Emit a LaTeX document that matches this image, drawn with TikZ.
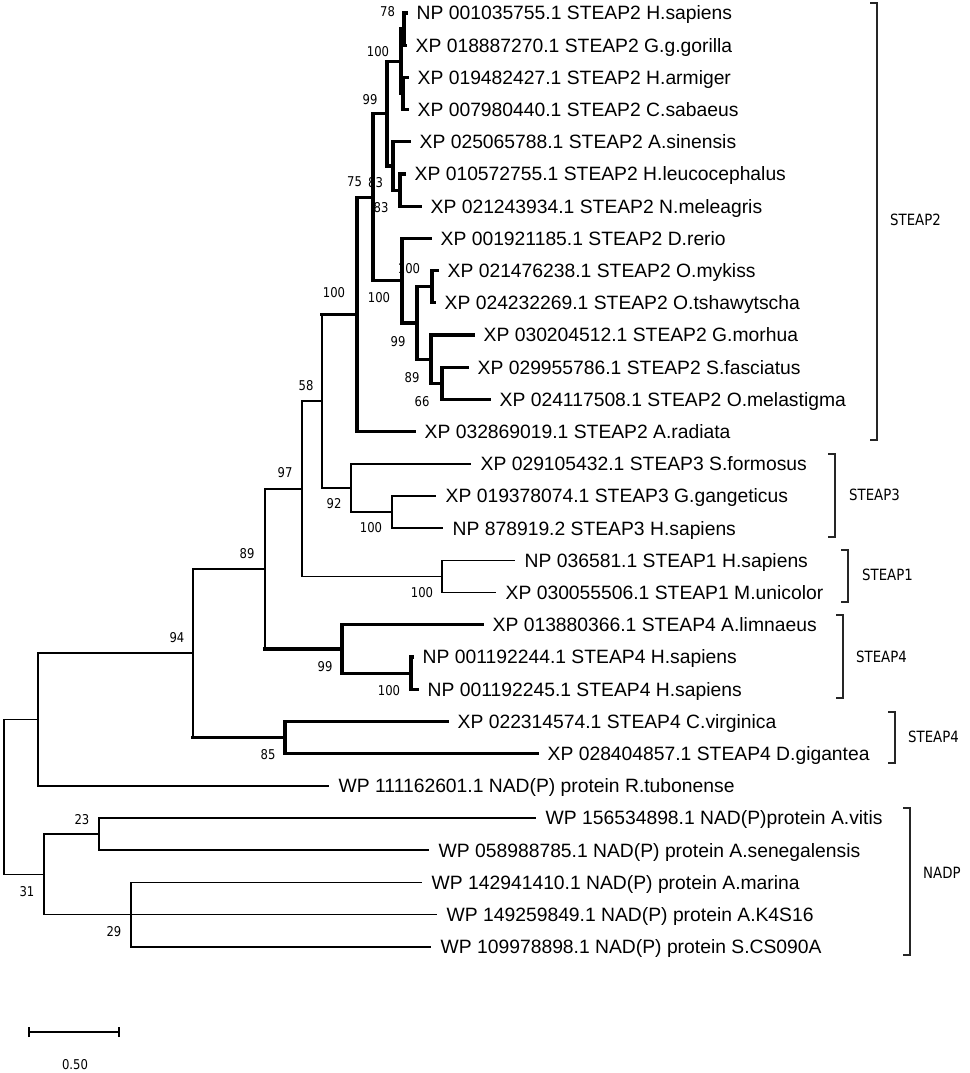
\documentclass[tikz,border=0pt]{standalone}
\usepackage{fontspec}
\setmainfont{Liberation Sans}
\newfontfamily\bootfont[FakeStretch=0.86]{DejaVu Sans}

\begin{document}
\begin{tikzpicture}[x=1pt,y=-1pt]
    \tikzstyle{every node}+=[inner sep=0pt]
    \tikzstyle{thinbranch}=[line width=1.65pt,line cap=rect]
    \tikzstyle{boldbranch}=[line width=3.2pt,line cap=rect]
    \tikzstyle{leaf}=[anchor=west,inner xsep=10.5pt,font=\fontsize{19.3}{22}\selectfont,text height=13.9pt,text depth=0pt]
    \tikzstyle{boot}=[font=\bootfont\fontsize{13.5}{15}\selectfont]
    \tikzstyle{group}=[anchor=west,font=\bootfont\fontsize{15.5}{17}\selectfont]
    \tikzstyle{bracket}=[line width=1.6pt,black!85]
    \useasboundingbox (0,0) rectangle (969,1073);
    \coordinate (t1) at (406,13);
    \coordinate (t2) at (405,45.2);
    \coordinate (t3) at (407,77.4);
    \coordinate (t4) at (407,109.6);
    \coordinate (t5) at (409,141.8);
    \coordinate (t6) at (404,174);
    \coordinate (t7) at (420,206.2);
    \coordinate (t8) at (430,238.4);
    \coordinate (t9) at (437,270.6);
    \coordinate (t10) at (434,302.8);
    \coordinate (t11) at (473,335);
    \coordinate (t12) at (467,367.2);
    \coordinate (t13) at (489,399.4);
    \coordinate (t14) at (414,431.6);
    \coordinate (t15) at (470,463.8);
    \coordinate (t16) at (435,496);
    \coordinate (t17) at (442,528.2);
    \coordinate (t18) at (514,560.4);
    \coordinate (t19) at (495,592.6);
    \coordinate (t20) at (482,624.8);
    \coordinate (t21) at (412,657);
    \coordinate (t22) at (417,689.2);
    \coordinate (t23) at (447,721.4);
    \coordinate (t24) at (537,753.6);
    \coordinate (t25) at (328,785.8);
    \coordinate (t26) at (535,818);
    \coordinate (t27) at (428,850.2);
    \coordinate (t28) at (421,882.4);
    \coordinate (t29) at (436,914.6);
    \coordinate (t30) at (430,946.8);
    \coordinate (P) at (404,29.1);
    \coordinate (Q) at (403,93.5);
    \coordinate (O) at (401,61.3);
    \coordinate (S) at (400,190.1);
    \coordinate (R) at (393,166);
    \coordinate (N) at (387,113.6);
    \coordinate (V) at (432,286.7);
    \coordinate (X) at (442,383.3);
    \coordinate (W) at (431,359.2);
    \coordinate (U) at (417,323);
    \coordinate (T) at (402,280.7);
    \coordinate (M) at (373,197.2);
    \coordinate (L) at (357,314.4);
    \coordinate (K) at (392,512.1);
    \coordinate (J) at (351,488);
    \coordinate (H) at (322,401.2);
    \coordinate (I) at (442,576.5);
    \coordinate (E) at (302,488.9);
    \coordinate (G) at (411,673.1);
    \coordinate (F) at (342,649);
    \coordinate (D) at (265,569);
    \coordinate (C) at (285,737.5);
    \coordinate (B) at (193,653.3);
    \coordinate (A) at (38,719.6);
    \coordinate (Z) at (99,834.1);
    \coordinate (AA) at (131,914.6);
    \coordinate (Y) at (44,874.4);
    \coordinate (root) at (4,797);
    \draw [boldbranch] (t1) -- (P |- t1) -- (P |- t2) -- (t2);
    \draw [boldbranch] (t3) -- (Q |- t3) -- (Q |- t4) -- (t4);
    \draw [boldbranch] (P) -- (O |- P) -- (O |- Q) -- (Q);
    \draw [boldbranch] (t6) -- (S |- t6) -- (S |- t7) -- (t7);
    \draw [boldbranch] (t5) -- (R |- t5) -- (R |- S) -- (S);
    \draw [boldbranch] (O) -- (N |- O) -- (N |- R) -- (R);
    \draw [boldbranch] (t9) -- (V |- t9) -- (V |- t10) -- (t10);
    \draw [boldbranch] (t12) -- (X |- t12) -- (X |- t13) -- (t13);
    \draw [boldbranch] (t11) -- (W |- t11) -- (W |- X) -- (X);
    \draw [boldbranch] (V) -- (U |- V) -- (U |- W) -- (W);
    \draw [boldbranch] (t8) -- (T |- t8) -- (T |- U) -- (U);
    \draw [boldbranch] (N) -- (M |- N) -- (M |- T) -- (T);
    \draw [boldbranch] (M) -- (L |- M) -- (L |- t14) -- (t14);
    \draw [thinbranch] (t16) -- (K |- t16) -- (K |- t17) -- (t17);
    \draw [thinbranch] (t15) -- (J |- t15) -- (J |- K) -- (K);
    \draw [thinbranch] (H |- L) -- (H |- J) -- (J);
    \draw [boldbranch] (L) -- (H |- L);
    \draw [thinbranch] (t18) -- (I |- t18) -- (I |- t19) -- (t19);
    \draw [thinbranch] (H) -- (E |- H) -- (E |- I) -- (I);
    \draw [boldbranch] (t21) -- (G |- t21) -- (G |- t22) -- (t22);
    \draw [boldbranch] (t20) -- (F |- t20) -- (F |- G) -- (G);
    \draw [thinbranch] (E) -- (D |- E) -- (D |- F);
    \draw [boldbranch] (D |- F) -- (F);
    \draw [boldbranch] (t23) -- (C |- t23) -- (C |- t24) -- (t24);
    \draw [thinbranch] (D) -- (B |- D) -- (B |- C);
    \draw [boldbranch] (B |- C) -- (C);
    \draw [thinbranch] (B) -- (A |- B) -- (A |- t25) -- (t25);
    \draw [thinbranch] (t26) -- (Z |- t26) -- (Z |- t27) -- (t27);
    \draw [thinbranch] (t28) -- (AA |- t28) -- (AA |- t30) -- (t30);
    \draw [thinbranch] (AA) -- (t29);
    \draw [thinbranch] (Z) -- (Y |- Z) -- (Y |- AA) -- (AA);
    \draw [thinbranch] (A) -- (root |- A) -- (root |- Y) -- (Y);
    \node [leaf] (l1) at (t1) {NP 001035755.1 STEAP2 H.sapiens};
    \node [leaf] (l2) at (t2) {XP 018887270.1 STEAP2 G.g.gorilla};
    \node [leaf] (l3) at (t3) {XP 019482427.1 STEAP2 H.armiger};
    \node [leaf] (l4) at (t4) {XP 007980440.1 STEAP2 C.sabaeus};
    \node [leaf] (l5) at (t5) {XP 025065788.1 STEAP2 A.sinensis};
    \node [leaf] (l6) at (t6) {XP 010572755.1 STEAP2 H.leucocephalus};
    \node [leaf] (l7) at (t7) {XP 021243934.1 STEAP2 N.meleagris};
    \node [leaf] (l8) at (t8) {XP 001921185.1 STEAP2 D.rerio};
    \node [leaf] (l9) at (t9) {XP 021476238.1 STEAP2 O.mykiss};
    \node [leaf] (l10) at (t10) {XP 024232269.1 STEAP2 O.tshawytscha};
    \node [leaf] (l11) at (t11) {XP 030204512.1 STEAP2 G.morhua};
    \node [leaf] (l12) at (t12) {XP 029955786.1 STEAP2 S.fasciatus};
    \node [leaf] (l13) at (t13) {XP 024117508.1 STEAP2 O.melastigma};
    \node [leaf] (l14) at (t14) {XP 032869019.1 STEAP2 A.radiata};
    \node [leaf] (l15) at (t15) {XP 029105432.1 STEAP3 S.formosus};
    \node [leaf] (l16) at (t16) {XP 019378074.1 STEAP3 G.gangeticus};
    \node [leaf] (l17) at (t17) {NP 878919.2 STEAP3 H.sapiens};
    \node [leaf] (l18) at (t18) {NP 036581.1 STEAP1 H.sapiens};
    \node [leaf] (l19) at (t19) {XP 030055506.1 STEAP1 M.unicolor};
    \node [leaf] (l20) at (t20) {XP 013880366.1 STEAP4 A.limnaeus};
    \node [leaf] (l21) at (t21) {NP 001192244.1 STEAP4 H.sapiens};
    \node [leaf] (l22) at (t22) {NP 001192245.1 STEAP4 H.sapiens};
    \node [leaf] (l23) at (t23) {XP 022314574.1 STEAP4 C.virginica};
    \node [leaf] (l24) at (t24) {XP 028404857.1 STEAP4 D.gigantea};
    \node [leaf] (l25) at (t25) {WP 111162601.1 NAD(P) protein R.tubonense};
    \node [leaf] (l26) at (t26) {WP 156534898.1 NAD(P)protein A.vitis};
    \node [leaf] (l27) at (t27) {WP 058988785.1 NAD(P) protein A.senegalensis};
    \node [leaf] (l28) at (t28) {WP 142941410.1 NAD(P) protein A.marina};
    \node [leaf] (l29) at (t29) {WP 149259849.1 NAD(P) protein A.K4S16};
    \node [leaf] (l30) at (t30) {WP 109978898.1 NAD(P) protein S.CS090A};
    \node [boot] (bP) at (387.5,12) {78};
    \node [boot] (bO) at (378,52) {100};
    \node [boot] (bN) at (370,100) {99};
    \node [boot] (bM) at (354.5,182) {75};
    \node [boot] (bR) at (375.5,183) {83};
    \node [boot] (bS) at (381,208) {83};
    \node [boot] (bL) at (334,293) {100};
    \node [boot] (bT) at (379,298) {100};
    \node [boot] (bV) at (409,269) {100};
    \node [boot] (bU) at (398,342) {99};
    \node [boot] (bW) at (412,378) {89};
    \node [boot] (bX) at (422,402) {66};
    \node [boot] (bH) at (306,386) {58};
    \node [boot] (bE) at (285,473) {97};
    \node [boot] (bD) at (247,554) {89};
    \node [boot] (bJ) at (334,504) {92};
    \node [boot] (bK) at (371,528) {100};
    \node [boot] (bI) at (422,593) {100};
    \node [boot] (bF) at (325,667) {99};
    \node [boot] (bG) at (389,691) {100};
    \node [boot] (bB) at (177,638) {94};
    \node [boot] (bC) at (268,755) {85};
    \node [boot] (bZ) at (82,820) {23};
    \node [boot] (bY) at (27,892) {31};
    \node [boot] (bAA) at (114,932) {29};
    \draw [bracket] (870,3) -- (877,3) -- (877,440) -- (870,440);
    \node [group] (steap2) at (890,220) {STEAP2};
    \draw [bracket] (828,454) -- (835,454) -- (835,537) -- (828,537);
    \node [group] (steap3) at (849,495) {STEAP3};
    \draw [bracket] (841,550) -- (848,550) -- (848,602) -- (841,602);
    \node [group] (steap1) at (862,575) {STEAP1};
    \draw [bracket] (836,615) -- (843,615) -- (843,698) -- (836,698);
    \node [group] (steap4a) at (856,657) {STEAP4};
    \draw [bracket] (888,712) -- (895,712) -- (895,763) -- (888,763);
    \node [group] (steap4b) at (908,737) {STEAP4};
    \draw [bracket] (903,808) -- (910,808) -- (910,955) -- (903,955);
    \node [group] (nadp) at (923,873) {NADP};
    \coordinate (s0) at (29,1032);
    \coordinate (s1) at (119,1032);
    \draw [thinbranch,line cap=butt] (s0) -- (s1);
    \draw [thinbranch,line cap=butt] ([yshift=-5pt]s0) -- ([yshift=5pt]s0);
    \draw [thinbranch,line cap=butt] ([yshift=-5pt]s1) -- ([yshift=5pt]s1);
    \node [boot,font=\bootfont\fontsize{13.5}{15}\selectfont] (scale) at (75,1065) {0.50};
\end{tikzpicture}
\end{document}
